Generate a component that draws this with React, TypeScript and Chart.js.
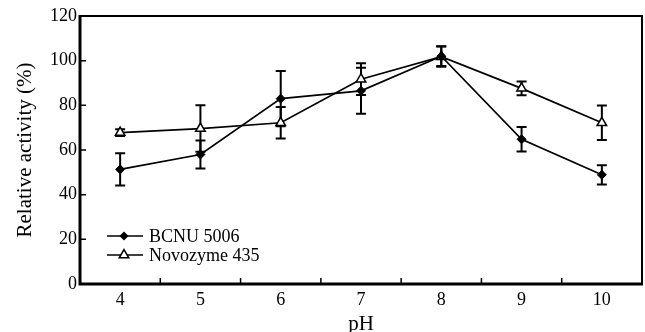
import React, { useEffect, useRef } from "react";
import { Chart, registerables } from "chart.js";

Chart.register(...registerables);

const phLabels = ["4", "5", "6", "7", "8", "9", "10"];
const bcnuValues = [51.3, 58, 83, 86.5, 102, 64.8, 48.9];
const bcnuErrors = [7.2, 6.3, 12.4, 10.3, 4.4, 5.5, 4.3];
const novoValues = [67.8, 69.6, 72.2, 91.7, 101.8, 87.6, 72.2];
const novoErrors = [1.5, 10.4, 7.1, 7.1, 4.5, 3.1, 7.7];
const seriesNames = ["BCNU 5006", "Novozyme 435"];
const yMin = 0;
const yMax = 120;
const yStep = 20;

const SERIF = "'Liberation Serif', 'Times New Roman', serif";

const errorData = [bcnuErrors, novoErrors];
const valueData = [bcnuValues, novoValues];

const customPlugin = {
  id: "customDecor",
  beforeDatasetsDraw(chart: any) {
    const ctx = chart.ctx;
    const xs = chart.scales.x;
    const ys = chart.scales.y;
    ctx.save();
    ctx.strokeStyle = "#000";
    ctx.lineWidth = 2;
    for (let d = 0; d < valueData.length; d++) {
      const vals = valueData[d];
      const errs = errorData[d];
      for (let i = 0; i < vals.length; i++) {
        const x = xs.getPixelForValue(i);
        const yt = ys.getPixelForValue(vals[i] + errs[i]);
        const yb = ys.getPixelForValue(vals[i] - errs[i]);
        ctx.beginPath();
        ctx.moveTo(x, yt);
        ctx.lineTo(x, yb);
        ctx.moveTo(x - 5, yt);
        ctx.lineTo(x + 5, yt);
        ctx.moveTo(x - 5, yb);
        ctx.lineTo(x + 5, yb);
        ctx.stroke();
      }
    }
    ctx.restore();
  },
  afterDraw(chart: any) {
    const ctx = chart.ctx;
    const ca = chart.chartArea;
    const xs = chart.scales.x;
    const ys = chart.scales.y;
    ctx.save();
    ctx.strokeStyle = "#000";
    // frame
    ctx.lineWidth = 2;
    ctx.beginPath();
    ctx.moveTo(ca.left, ca.top);
    ctx.lineTo(ca.right, ca.top);
    ctx.lineTo(ca.right, ca.bottom);
    ctx.stroke();
    ctx.lineWidth = 3;
    ctx.beginPath();
    ctx.moveTo(ca.left, ca.top - 1);
    ctx.lineTo(ca.left, ca.bottom);
    ctx.lineTo(ca.right + 1, ca.bottom);
    ctx.stroke();
    // x ticks (inward) at category boundaries
    ctx.lineWidth = 1.5;
    ctx.beginPath();
    for (let i = 0; i < phLabels.length - 1; i++) {
      const x = (xs.getPixelForValue(i) + xs.getPixelForValue(i + 1)) / 2;
      ctx.moveTo(x, ca.bottom);
      ctx.lineTo(x, ca.bottom - 6);
    }
    // y ticks (inward)
    for (let v = yMin + yStep; v < yMax; v += yStep) {
      const y = ys.getPixelForValue(v);
      ctx.moveTo(ca.left, y);
      ctx.lineTo(ca.left + 6, y);
    }
    ctx.stroke();

    // legend
    const lx0 = 107;
    const lx1 = 143;
    const mx = 124;
    const rows = [236, 255];
    ctx.font = `18px ${SERIF}`;
    ctx.fillStyle = "#000";
    ctx.textBaseline = "middle";
    ctx.textAlign = "left";
    rows.forEach((y, i) => {
      ctx.lineWidth = 1.6;
      ctx.beginPath();
      ctx.moveTo(lx0, y);
      ctx.lineTo(lx1, y);
      ctx.stroke();
      if (i === 0) {
        const r = 4.5;
        ctx.beginPath();
        ctx.moveTo(mx, y - r);
        ctx.lineTo(mx + r, y);
        ctx.lineTo(mx, y + r);
        ctx.lineTo(mx - r, y);
        ctx.closePath();
        ctx.fillStyle = "#000";
        ctx.fill();
      } else {
        const r = 5.5;
        const s = Math.sin((2 * Math.PI) / 3) * r;
        ctx.beginPath();
        ctx.moveTo(mx, y - r);
        ctx.lineTo(mx + s, y + r / 2);
        ctx.lineTo(mx - s, y + r / 2);
        ctx.closePath();
        ctx.fillStyle = "#fff";
        ctx.fill();
        ctx.lineWidth = 1.5;
        ctx.stroke();
      }
      ctx.fillStyle = "#000";
      ctx.fillText(seriesNames[i], 149, y + 1);
    });
    ctx.restore();
  },
};

export default function App() {
  const canvasRef = useRef<HTMLCanvasElement | null>(null);

  useEffect(() => {
    document.body.style.margin = "0";
    document.body.style.overflow = "hidden";
    const canvas = canvasRef.current;
    if (!canvas) return;
    const chart = new Chart(canvas, {
      type: "line",
      data: {
        labels: phLabels,
        datasets: [
          {
            label: seriesNames[0],
            data: bcnuValues,
            borderColor: "#000",
            backgroundColor: "#000",
            borderWidth: 1.7,
            pointStyle: "rectRot",
            pointRadius: 4.5,
            pointBackgroundColor: "#000",
            pointBorderColor: "#000",
            pointBorderWidth: 1,
            tension: 0,
          },
          {
            label: seriesNames[1],
            data: novoValues,
            borderColor: "#000",
            backgroundColor: "#fff",
            borderWidth: 1.7,
            pointStyle: "triangle",
            pointRadius: 5.5,
            pointBackgroundColor: "#fff",
            pointBorderColor: "#000",
            pointBorderWidth: 1.5,
            tension: 0,
          },
        ],
      },
      options: {
        animation: false,
        responsive: false,
        events: [],
        layout: { padding: { top: 16, right: 3, left: 0, bottom: 0 } },
        plugins: {
          legend: { display: false },
          tooltip: { enabled: false },
        },
        scales: {
          x: {
            type: "category",
            offset: true,
            grid: { display: false, drawTicks: false },
            border: { display: false },
            ticks: {
              color: "#000",
              padding: 5,
              font: { family: SERIF, size: 18 },
              maxRotation: 0,
            },
            title: {
              display: true,
              text: "pH",
              color: "#000",
              font: { family: SERIF, size: 21, lineHeight: 1 },
              padding: { top: 0, bottom: -3 },
            },
            afterFit(scale: any) {
              scale.height = 48;
              scale.paddingLeft = 0;
              scale.paddingRight = 0;
            },
          },
          y: {
            min: yMin,
            max: yMax,
            grid: { display: false, drawTicks: false },
            border: { display: false },
            ticks: {
              stepSize: yStep,
              color: "#000",
              padding: 3,
              font: { family: SERIF, size: 18 },
            },
            title: {
              display: true,
              text: "Relative activity (%)",
              color: "#000",
              font: { family: SERIF, size: 21, lineHeight: 1 },
              padding: { top: 15, bottom: 0 },
            },
            afterFit(scale: any) {
              scale.width = 80;
              scale.paddingTop = 0;
              scale.paddingBottom = 0;
            },
          },
        },
      },
      plugins: [customPlugin],
    });
    return () => chart.destroy();
  }, []);

  return (
    <div style={{ width: 645, height: 332, overflow: "hidden" }}>
      <canvas ref={canvasRef} width={649} height={332} />
    </div>
  );
}
